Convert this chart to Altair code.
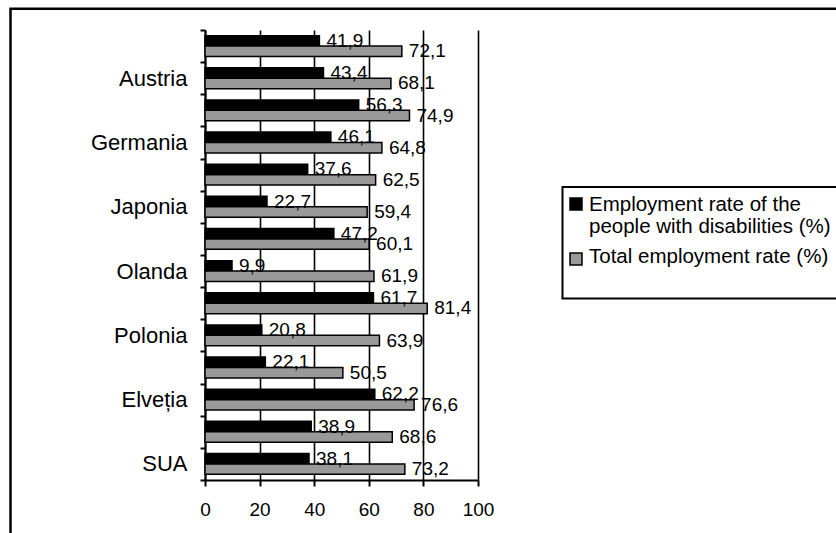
import json

import altair as alt
import pandas as pd

FONT = "Liberation Sans"

# Countries from top to bottom; only every other one gets a label on the axis
COUNTRIES = [
    "Australia", "Austria", "Canada", "Germania", "Italia", "Japonia", "Mexic",
    "Olanda", "Norvegia", "Polonia", "Spania", "Elveția", "Marea Britanie", "SUA",
]
LABELED = ["Austria", "Germania", "Japonia", "Olanda", "Polonia", "Elveția", "SUA"]

SERIES = [
    "Employment rate of the\npeople with disabilities (%)",
    "Total employment rate (%)",
]
COLORS = ["#000000", "#999999"]

DISABLED = [41.9, 43.4, 56.3, 46.1, 37.6, 22.7, 47.2, 9.9, 61.7, 20.8, 22.1, 62.2, 38.9, 38.1]
TOTAL = [72.1, 68.1, 74.9, 64.8, 62.5, 59.4, 60.1, 61.9, 81.4, 63.9, 50.5, 76.6, 68.6, 73.2]

X_TICKS = [0, 20, 40, 60, 80, 100]

rows = []
for country, d, t in zip(COUNTRIES, DISABLED, TOTAL):
    rows.append({"country": country, "series": SERIES[0], "value": d})
    rows.append({"country": country, "series": SERIES[1], "value": t})
df = pd.DataFrame(rows)

label_expr = "indexof(%s, datum.value) >= 0 ? datum.value : ''" % json.dumps(LABELED, ensure_ascii=False)

base = alt.Chart(df).encode(
    x=alt.X(
        "value:Q",
        scale=alt.Scale(domain=[0, 100], nice=False),
        axis=alt.Axis(
            values=X_TICKS, title=None, grid=True, gridColor="black", gridWidth=1.6,
            domainColor="black", domainWidth=2, tickColor="black", tickWidth=2,
            tickSize=6, labelFontSize=19, labelPadding=14, labelColor="black",
            labelFont=FONT, labelFlush=False, labelOverlap=False,
        ),
    ),
    y=alt.Y(
        "country:N",
        sort=COUNTRIES,
        scale=alt.Scale(paddingInner=0, paddingOuter=0),
        axis=alt.Axis(
            title=None, tickBand="extent", labelExpr=label_expr,
            domainColor="black", domainWidth=2, tickColor="black", tickWidth=2,
            tickSize=5, labelFontSize=22, labelPadding=13, labelColor="black",
            labelFont=FONT, labelLimit=300,
        ),
    ),
    yOffset=alt.YOffset(
        "series:N", sort=SERIES,
        scale=alt.Scale(domain=SERIES, paddingInner=0, paddingOuter=0.54),
    ),
)

bars = base.mark_bar(stroke="black", strokeWidth=1.5).encode(
    color=alt.Color("series:N", scale=alt.Scale(domain=SERIES, range=COLORS), legend=None)
)

values = base.transform_calculate(
    label="replace(format(datum.value, '.1f'), '.', ',')"
).mark_text(
    align="left", baseline="middle", dx=7, fontSize=19, font=FONT, color="black"
).encode(text="label:N")

one = pd.DataFrame({"k": [0]})

# outer frame of the whole chart
frame = alt.Chart(one).mark_rect(fillOpacity=0, stroke="black", strokeWidth=2.5).encode(
    x=alt.value(-194.5), x2=alt.value(700), y=alt.value(-21.25), y2=alt.value(600)
)

# legend box, swatches and texts
legend_box = alt.Chart(one).mark_rect(fill="white", stroke="black", strokeWidth=2).encode(
    x=alt.value(357.5), x2=alt.value(700), y=alt.value(157), y2=alt.value(268.5)
)

legend_layers = [legend_box]
swatch_y = [168, 223]
text_y = [181, 233]
for name, color, sy, ty in zip(SERIES, COLORS, swatch_y, text_y):
    item = pd.DataFrame({"s": [name]})
    legend_layers.append(
        alt.Chart(item).mark_rect(fill=color, stroke="black", strokeWidth=1.5).encode(
            x=alt.value(365), x2=alt.value(377), y=alt.value(sy), y2=alt.value(sy + 12)
        )
    )
    legend_layers.append(
        alt.Chart(item).mark_text(
            lineBreak="\n", align="left", baseline="alphabetic", fontSize=20.5,
            lineHeight=22, font=FONT, color="black",
        ).encode(text="s:N", x=alt.value(384), y=alt.value(ty))
    )

chart = alt.layer(frame, bars, values, *legend_layers).properties(
    width=273,
    height=450,
    padding={"left": 205, "top": 30, "right": 358, "bottom": 53},
    autosize=alt.AutoSizeParams(type="none"),
    background="white",
).configure_view(strokeWidth=0)

chart.save("out.html", embed_options={"renderer": "svg", "actions": False})
